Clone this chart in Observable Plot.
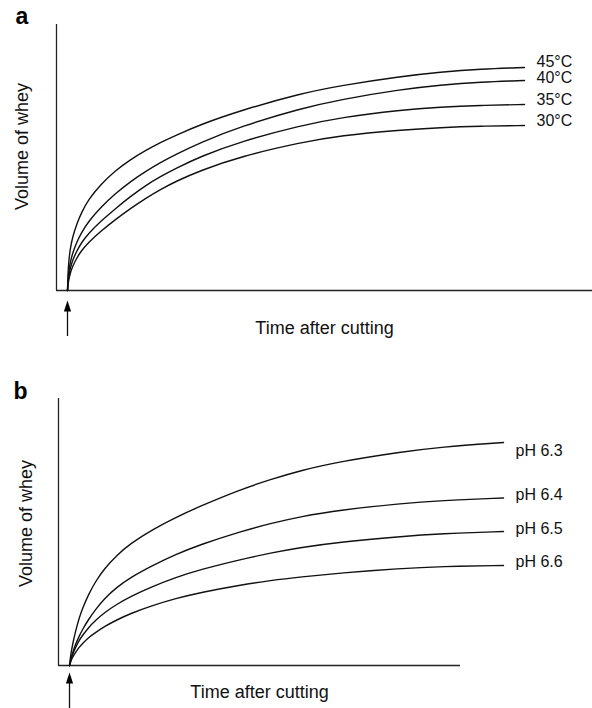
<!DOCTYPE html>
<html><head><meta charset="utf-8">
<script src="https://cdn.jsdelivr.net/npm/d3@7"></script>
<script src="https://cdn.jsdelivr.net/npm/@observablehq/plot@0.6"></script>
<style>
body{margin:0;background:#fff;}
#chart{width:592px;}
#chart svg{display:block;}
</style></head><body><div id="chart"></div>
<script>
// ---------- Panel a: temperature ----------
const timeA = [11, 11.5, 12.5, 14, 16, 20, 25, 32, 44, 59, 74, 89, 104, 119, 144, 184, 244, 284, 344, 384, 424, 468];
const temp45 = [0, 18, 32, 43, 53, 66, 78, 91, 106, 120, 131, 140, 148, 155, 166, 180, 197, 205, 214, 218.5, 221.5, 223];
const temp40 = [0, 11, 21, 29, 37, 48, 58, 69, 83, 97, 109, 119, 128, 136, 148, 164, 182, 191, 201, 205.5, 208.5, 210];
const temp35 = [0, 8, 16, 23, 30, 39, 48, 57, 69, 82, 94, 105, 114, 122, 134, 149, 165, 173, 180.5, 183.5, 185.2, 186];
const temp30 = [0, 6, 12, 18, 24, 32, 40, 48, 59, 71, 82, 92, 101, 109, 120, 134, 148, 155, 160.5, 163, 164.4, 165];
const tempNames = ["45°C", "40°C", "35°C", "30°C"];
const tempLabelVol = [228.5, 213, 191, 169.5];
const tempLabelTime = 480;

// ---------- Panel b: pH ----------
const timeB = [11, 12, 13, 14.5, 17, 20.5, 24, 30, 37, 46, 58, 72, 94, 117, 142, 182, 212, 242, 282, 342, 382, 445];
const ph63 = [0, 9, 15, 23, 34, 47, 57, 71, 84, 97, 110, 122, 136, 148, 159.5, 176, 186, 195, 204, 213.5, 218.5, 223];
const ph64 = [0, 5, 9, 14, 21, 29, 36, 46, 56, 67, 78, 88, 100, 111, 121, 134, 142, 149, 155.5, 162, 165, 167.5];
const ph65 = [0, 4, 8, 12, 18, 25, 30, 38, 45, 53, 61, 69, 79, 88, 96, 106, 112.5, 118, 123.5, 129, 131.8, 134];
const ph66 = [0, 3, 6, 9, 13, 18, 22, 28, 33, 39, 45.5, 52, 60, 67, 73, 80.5, 85, 88.5, 92.5, 97, 99, 100];
const phNames = ["pH 6.3", "pH 6.4", "pH 6.5", "pH 6.6"];
const phLabelVol = [215, 171, 137, 104];
const phLabelTime = 457;

const cutTime = 11;
const xTitle = "Time after cutting";
const yTitle = "Volume of whey";

const font = "Liberation Sans, Arial, Helvetica, sans-serif";

function tidy(time, seriesList, names) {
  return seriesList.flatMap((vals, i) => vals.map((v, j) => ({series: names[i], time: time[j], volume: v})));
}
const rowsA = tidy(timeA, [temp45, temp40, temp35, temp30], tempNames);
const rowsB = tidy(timeB, [ph63, ph64, ph65, ph66], phNames);
const labelsA = tempNames.map((n, i) => ({text: n, time: tempLabelTime, volume: tempLabelVol[i]}));
const labelsB = phNames.map((n, i) => ({text: n, time: phLabelTime, volume: phLabelVol[i]}));

const arrowHead = {
  draw(ctx) {
    ctx.moveTo(0, 0);
    ctx.lineTo(3.6, 11);
    ctx.lineTo(-3.6, 11);
    ctx.closePath();
  }
};

function panel({rows, labels, letter, xMax, yMax, margins, tip, tail, titleDy, yTitleDx, yTitleDy, letterDx, letterDy}) {
  return Plot.plot({
    width: 592,
    height: 354,
    marginTop: margins[0], marginRight: margins[1], marginBottom: margins[2], marginLeft: margins[3],
    style: {fontFamily: font, background: "#fff"},
    x: {domain: [0, xMax], axis: null},
    y: {domain: [0, yMax], axis: null},
    marks: [
      Plot.ruleY([0], {stroke: "#222", strokeWidth: 1.3}),
      Plot.ruleX([0], {stroke: "#222", strokeWidth: 1.3}),
      Plot.line(rows, {x: "time", y: "volume", z: "series", curve: "basis", stroke: "#111", strokeWidth: 1.4}),
      Plot.text(labels, {x: "time", y: "volume", text: "text", textAnchor: "start", lineAnchor: "middle", fontSize: 16, fill: "#111", fontFamily: font}),
      Plot.ruleX([cutTime], {y1: tip - 10, y2: tail, stroke: "#111", strokeWidth: 1.3}),
      Plot.dot([cutTime], {x: d => d, y: tip, symbol: arrowHead, fill: "#000", stroke: "none", r: 5}),
      Plot.text([letter], {text: d => d, frameAnchor: "top-left", dx: letterDx, dy: letterDy, textAnchor: "start", lineAnchor: "bottom", fontWeight: "bold", fontSize: 23, fill: "#000", fontFamily: font}),
      Plot.text([yTitle], {text: d => d, frameAnchor: "left", rotate: -90, dx: yTitleDx, dy: yTitleDy, textAnchor: "middle", lineAnchor: "middle", fontSize: 18, fill: "#111", fontFamily: font}),
      Plot.text([xTitle], {text: d => d, frameAnchor: "bottom", dy: titleDy, textAnchor: "middle", lineAnchor: "middle", fontSize: 18, fill: "#111", fontFamily: font})
    ]
  });
}

const chart = document.getElementById("chart");
chart.append(panel({rows: rowsA, labels: labelsA, letter: "a", xMax: 536, yMax: 266,
  margins: [24, 0, 64, 56], tip: -10, tail: -46, titleDy: 38, yTitleDx: -34, yTitleDy: -11, letterDx: -41, letterDy: -1}));
chart.append(panel({rows: rowsB, labels: labelsB, letter: "b", xMax: 402, yMax: 267,
  margins: [44, 132, 43, 58], tip: -7, tail: -43, titleDy: 27, yTitleDx: -32, yTitleDy: -8.5, letterDx: -45, letterDy: 0}));
</script>
</body></html>
